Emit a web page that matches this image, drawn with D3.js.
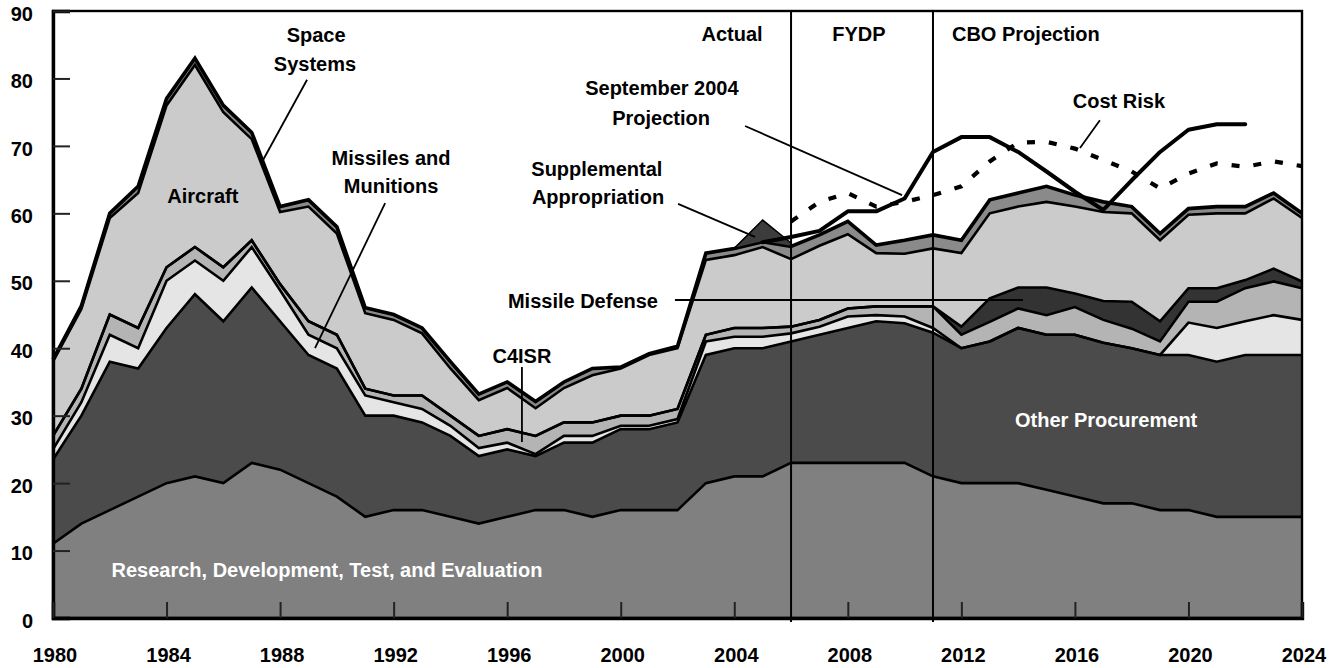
<!DOCTYPE html>
<html>
<head>
<meta charset="utf-8">
<script src="https://cdnjs.cloudflare.com/ajax/libs/d3/7.8.5/d3.min.js"></script>
<style>
  body { margin: 0; background: #fff; }
  svg text { font-family: "Liberation Sans", Arial, sans-serif; font-weight: bold; }
</style>
</head>
<body>
<div id="chart"></div>
<script>
// years on the x axis
var years = [1980,1981,1982,1983,1984,1985,1986,1987,1988,1989,
             1990,1991,1992,1993,1994,1995,1996,1997,1998,1999,
             2000,2001,2002,2003,2004,2005,2006,2007,2008,2009,
             2010,2011,2012,2013,2014,2015,2016,2017,2018,2019,
             2020,2021,2022,2023,2024];

// stacked series, billions of dollars (bottom to top)
var rdte       = [11,14,16,18,20,21,20,23,22,20, 18,15,16,16,15,14,15,16,16,15, 16,16,16,20,21,21,23,23,23,23, 23,21,20,20,20,19,18,17,17,16, 16,15,15,15,15];
var otherProc  = [12.5,16,22,19,23,27,24,26,22,19, 19,15,14,13,12,10,10,8,10,11, 12,12,13,19,19,19,18,19,20,21, 20.7,21.3,20,21,23,23,24,23.8,23,23, 23,23,24,24,24];
var missiles   = [1.5,2,4,3,7,5,6,6,4.6,3, 3,3,2,2,1.5,1.2,1,0.3,1,1, 0.5,0.5,0.5,2,1.7,1.7,1.2,1.2,1.7,0.9, 1,0.7,0,0,0,0,0,0,0,0, 4.8,5,5,5.9,5.2];
var c4isr      = [2,2,3,3,2,2,2,1,0.9,2, 2,1,1,2,1.5,1.8,2,2.7,2,2, 1.5,1.5,1.5,1,1.3,1.3,1,1,1.2,1.3, 1.5,3.2,2,2.9,2.9,2.9,4.1,3.4,2.9,2, 3.1,3.9,4.9,5,4.7];
var missileDef = [0,0,0,0,0,0,0,0,0,0, 0,0,0,0,0,0,0,0,0,0, 0,0,0,0,0,0,0,0,0,0, 0,0,1.2,3.5,3.1,4.1,2,2.8,4,3, 2,2,1.2,1.9,1];
var aircraft   = [11,11.8,14.3,20,24,27,23,15,10.7,17, 15,11.2,11.2,9.2,7,5.3,6.1,4.1,5.1,7, 7,9,9,11.1,10.8,12,10,11,11,7.9, 7.8,8.6,10.9,12.6,12,12.7,12.9,13.2,13.1,12, 10.9,11.1,9.9,10.4,9.4];
var space      = [0.3,0.5,0.7,1,1,1,1,1,0.8,1, 1,0.8,0.8,0.8,1,0.9,0.9,1,0.9,1, 0.2,0.2,0.3,1,1,0.8,1.9,1.6,1.9,1.2, 2,2,1.9,2,2,2.3,1.7,1.5,1,1, 0.9,1,1,0.8,0.7];
var supplemental = [null,null,null,null,null,null,null,null,null,null, null,null,null,null,null,null,null,null,null,null, null,null,null,null,0,3.2,0.5,null,null,null, null,null,null,null,null,null,null,null,null,null, null,null,null,null,null];

// projection lines
var sept2004Years  = [2005,2006,2007,2008,2009,2010,2011,2012,2013,2014,2015,2016,2017,2018,2019,2020,2021,2022];
var sept2004Values = [55.7,56.5,57.4,60.3,60.3,62.2,69.1,71.3,71.3,69.1,66.2,63.2,60.5,64.9,69.1,72.4,73.2,73.2];
var costRiskYears  = [2006,2007,2008,2009,2010,2011,2012,2013,2014,2015,2016,2017,2018,2019,2020,2021,2022,2023,2024];
var costRiskValues = [58.8,61.7,63,61,61.7,62.7,64,67.7,70.5,70.6,69.6,67.9,66.2,63.7,65.9,67.4,66.9,67.7,67];

var periodBreaks = [2006, 2011];
var yTicks = [0,10,20,30,40,50,60,70,80,90];
var xTicks = [1980,1984,1988,1992,1996,2000,2004,2008,2012,2016,2020,2024];

var W = 1338, H = 668;
var margin = {top: 11, right: 36, bottom: 50, left: 53};

var svg = d3.select("#chart").append("svg")
  .attr("width", W)
  .attr("height", H);

var x = d3.scaleLinear().domain([1980, 2024]).range([margin.left, W - margin.right]);
var y = d3.scaleLinear().domain([0, 90]).range([H - margin.bottom, margin.top]);

var keys = ["rdte","otherProc","missiles","c4isr","missileDef","aircraft","space"];
var colors = {
  rdte: "#808080", otherProc: "#4b4b4b", missiles: "#e5e5e5", c4isr: "#b4b4b4",
  missileDef: "#333333", aircraft: "#cbcbcb", space: "#8a8a8a"
};
var table = years.map(function(yr, i){
  return {year: yr, rdte: rdte[i], otherProc: otherProc[i], missiles: missiles[i],
          c4isr: c4isr[i], missileDef: missileDef[i], aircraft: aircraft[i], space: space[i]};
});
var series = d3.stack().keys(keys)(table);

var area = d3.area()
  .x(function(d){ return x(d.data.year); })
  .y0(function(d){ return y(d[0]); })
  .y1(function(d){ return y(d[1]); });
var topLine = d3.line()
  .x(function(d){ return x(d.data.year); })
  .y(function(d){ return y(d[1]); });

svg.append("g").selectAll("path")
  .data(series)
  .enter().append("path")
    .attr("d", area)
    .attr("fill", function(d){ return colors[d.key]; });

svg.append("g").selectAll("path")
  .data(series)
  .enter().append("path")
    .attr("d", topLine)
    .attr("fill", "none")
    .attr("stroke", "#000")
    .attr("stroke-width", function(d){ return d.key === "space" ? 3.6 : 2.6; })
    .attr("stroke-linejoin", "miter");

// supplemental appropriation sits on top of the stack
var stackTop = series[series.length - 1];
var supData = years.map(function(yr, i){
  return {year: yr, base: stackTop[i][1], v: supplemental[i]};
});
svg.append("path")
  .datum(supData)
  .attr("d", d3.area()
    .defined(function(d){ return d.v !== null; })
    .x(function(d){ return x(d.year); })
    .y0(function(d){ return y(d.base); })
    .y1(function(d){ return y(d.base + d.v); }))
  .attr("fill", "#3c3c3c")
  .attr("stroke", "#000")
  .attr("stroke-width", 1.5);

// period dividers
svg.append("g").selectAll("line")
  .data(periodBreaks)
  .enter().append("line")
    .attr("x1", function(d){ return x(d); })
    .attr("x2", function(d){ return x(d); })
    .attr("y1", y(90))
    .attr("y2", y(0) + 4)
    .attr("stroke", "#000")
    .attr("stroke-width", 2);

// frame
svg.append("rect")
  .attr("x", x(1980)).attr("y", y(90))
  .attr("width", x(2024) - x(1980)).attr("height", y(0) - y(90))
  .attr("fill", "none").attr("stroke", "#000").attr("stroke-width", 2.4);

// axes
var yAxis = svg.append("g")
  .attr("transform", "translate(" + x(1980) + ",0)")
  .call(d3.axisLeft(y).tickValues(yTicks).tickSize(-17).tickPadding(20));
var xAxis = svg.append("g")
  .attr("transform", "translate(0," + y(0) + ")")
  .call(d3.axisBottom(x).tickValues(xTicks).tickFormat(d3.format("d")).tickSize(-16).tickPadding(30));

[yAxis, xAxis].forEach(function(g){
  g.select(".domain").attr("stroke", "#000").attr("stroke-width", 3.4);
  g.selectAll(".tick line").attr("stroke", "#222").attr("stroke-width", 2);
  g.selectAll(".tick text")
    .attr("fill", "#000")
    .style("font-family", "'Liberation Sans', Arial, sans-serif")
    .style("font-weight", "bold")
    .style("font-size", "20px");
});
yAxis.selectAll(".tick text").attr("dy", "0.46em");
xAxis.selectAll(".tick text").attr("dx", 1.5);

// projection lines
var projLine = d3.line()
  .x(function(d){ return x(d[0]); })
  .y(function(d){ return y(d[1]); });

svg.append("path")
  .datum(d3.zip(costRiskYears, costRiskValues))
  .attr("d", projLine)
  .attr("fill", "none")
  .attr("stroke", "#000")
  .attr("stroke-width", 4.2)
  .attr("stroke-dasharray", "8,14");

svg.append("path")
  .datum(d3.zip(sept2004Years, sept2004Values))
  .attr("d", projLine)
  .attr("fill", "none")
  .attr("stroke", "#000")
  .attr("stroke-width", 4)
  .attr("stroke-linecap", "round")
  .attr("stroke-linejoin", "round");

// leader lines [year1, value1, year2, value2]
var pointers = [
  [1988.95, 79.8, 1987.4, 67.9],
  [1991.7, 61.5, 1989.23, 40.0],
  [1996.52, 37.2, 1996.52, 26.1],
  [2004.38, 72.95, 2009.91, 62.7],
  [2002.02, 61.4, 2004.73, 56.5],
  [2001.91, 47.15, 2014.17, 47.15],
  [2016.88, 73.8, 2016.18, 69.7]
];
svg.append("g").selectAll("line")
  .data(pointers)
  .enter().append("line")
    .attr("x1", function(d){ return x(d[0]); })
    .attr("y1", function(d){ return y(d[1]); })
    .attr("x2", function(d){ return x(d[2]); })
    .attr("y2", function(d){ return y(d[3]); })
    .attr("stroke", "#000")
    .attr("stroke-width", 1.8);

// labels [text, year, value, anchor, color]
var labels = [
  ["Space", 1989.27, 85.4, "middle", "#000"],
  ["Systems", 1989.23, 81.1, "middle", "#000"],
  ["Aircraft", 1985.28, 61.5, "middle", "#000"],
  ["Missiles and", 1991.91, 67.2, "middle", "#000"],
  ["Munitions", 1991.91, 63.0, "middle", "#000"],
  ["C4ISR", 1996.52, 37.8, "middle", "#000"],
  ["Actual", 2005.0, 85.6, "end", "#000"],
  ["FYDP", 2007.45, 85.6, "start", "#000"],
  ["CBO Projection", 2011.67, 85.6, "start", "#000"],
  ["September 2004", 2001.45, 77.55, "middle", "#000"],
  ["Projection", 2001.42, 73.1, "middle", "#000"],
  ["Supplemental", 1999.16, 65.54, "middle", "#000"],
  ["Appropriation", 1999.2, 61.4, "middle", "#000"],
  ["Missile Defense", 1998.67, 45.97, "middle", "#000"],
  ["Cost Risk", 2017.55, 75.6, "middle", "#000"],
  ["Research, Development, Test, and Evaluation", 1989.65, 6.08, "middle", "#fff"],
  ["Other Procurement", 2017.1, 28.3, "middle", "#fff"]
];
svg.append("g").selectAll("text")
  .data(labels)
  .enter().append("text")
    .attr("x", function(d){ return x(d[1]); })
    .attr("y", function(d){ return y(d[2]); })
    .attr("text-anchor", function(d){ return d[3]; })
    .attr("fill", function(d){ return d[4]; })
    .attr("font-size", 20)
    .text(function(d){ return d[0]; });
</script>
</body>
</html>
